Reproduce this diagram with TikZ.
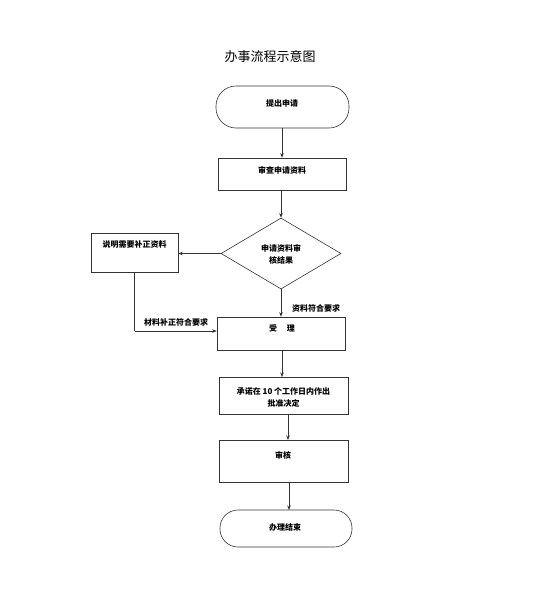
\documentclass[tikz,border=0pt]{standalone}
\usepackage{fontspec}
\setmainfont{Noto Sans CJK SC}
\newfontfamily\cjkb[BoldFont={Noto Sans CJK SC Bold}]{Noto Sans CJK SC}
\usetikzlibrary{shapes.geometric,arrows.meta}
\begin{document}
\begin{tikzpicture}[x=1pt,y=-1pt,
  boxnode/.style={draw=black!80, line width=0.6pt, rectangle, inner sep=0pt},
  termnode/.style={draw=black!80, line width=0.6pt, rounded rectangle, inner sep=0pt},
  txt/.style={font=\fontsize{8}{10}\selectfont\bfseries, inner sep=0pt, align=center},
  conn/.style={draw=black!80, line width=0.6pt, -{Stealth[length=4.5pt,width=3.5pt]}},
  plain/.style={draw=black!80, line width=0.6pt}
]
\useasboundingbox (0,0) rectangle (552,600);
\node[font=\fontsize{13}{15}\selectfont, inner sep=0pt] (title) at (270,57) {办事流程示意图};

% start
\node[draw=black!80, line width=0.6pt, rectangle, rounded corners=20pt, minimum width=133pt, minimum height=42pt, inner sep=0pt] (start) at (282.5,107) {};
\node[txt] (starttxt) at (282,103) {提出申请};

% review docs
\node[boxnode, minimum width=128pt, minimum height=32pt] (review) at (282,174) {};
\node[txt] (reviewtxt) at (282,170) {审查申请资料};

% diamond
\node[draw=black!80, line width=0.6pt, diamond, aspect=1.7, minimum width=120pt, minimum height=71pt, inner sep=0pt] (dec) at (281,253.5) {};
\node[txt] (dectxt) at (281,254) {申请资料审\\[2pt]核结果};

% left box
\node[boxnode, minimum width=87pt, minimum height=39pt] (left) at (134.5,252.5) {};
\node[txt] (lefttxt) at (134.5,244.5) {说明需要补正资料};

% accept
\node[boxnode, minimum width=128pt, minimum height=33pt] (accept) at (281,333.5) {};
\node[txt] (accepttxt) at (282,328) {受\hspace{1.2em}理};

% promise
\node[boxnode, minimum width=129pt, minimum height=37pt] (promise) at (283.5,395.5) {};
\node[txt] (promisetxt) at (283.5,397) {承诺在 10 个工作日内作出\\[2pt]批准决定};

% audit
\node[boxnode, minimum width=129pt, minimum height=42pt] (audit) at (283.5,461) {};
\node[txt] (audittxt) at (283,455) {审核};

% end
\node[draw=black!80, line width=0.6pt, rectangle, rounded corners=18pt, minimum width=132pt, minimum height=37pt, inner sep=0pt] (finish) at (286,528.5) {};
\node[txt] (finishtxt) at (285,527) {办理结束};

% connectors
\draw[conn] (start.south -| review.north) -- (review.north);
\draw[conn] (review.south -| dec.north) -- (dec.north);
\draw[conn] (dec.west) -- (left.east |- dec.west);
\draw[conn] (dec.south) -- (dec.south |- accept.north);
\node[txt, anchor=west] (oklabel) at (292,308) {资料符合要求};
\coordinate (corner) at (left.south |- 0,331);
\draw[plain] (left.south) -- (corner);
\draw[conn] (corner) -- (accept.west |- corner);
\node[txt, anchor=south] (fixlabel) at (176,326.5) {材料补正符合要求};
\draw[conn] (282,350) -- (282,377);
\draw[conn] (288,414) -- (288,440);
\draw[conn] (289,482) -- (289,510);
\end{tikzpicture}
\end{document}
